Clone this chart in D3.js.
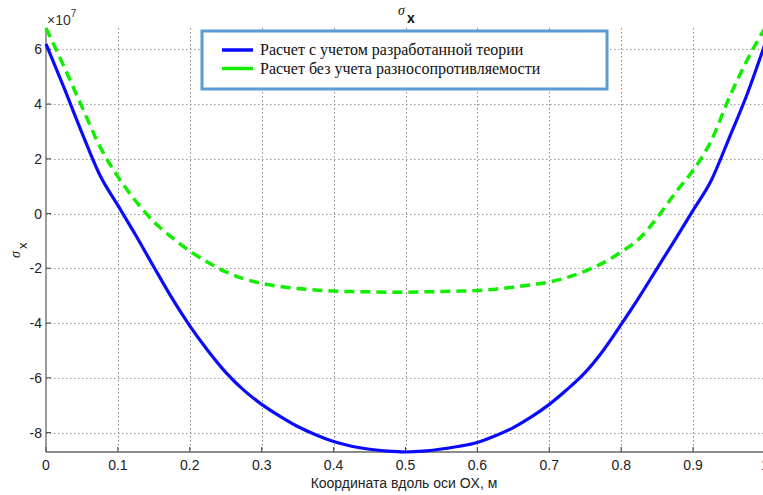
<!DOCTYPE html>
<html lang="ru">
<head>
<meta charset="utf-8">
<title>sigma x</title>
<script type="text/javascript" src="https://d3js.org/d3.v7.min.js"></script>
<style>
  body { margin: 0; background: #fff; }
  svg { display: block; }
  .ticklbl { font-family: "Liberation Sans", Arial, sans-serif; font-size: 14px; fill: #222; }
  .leglbl { font-family: "Liberation Serif", "Times New Roman", serif; font-size: 16px; fill: #111; }
</style>
</head>
<body>
<div id="chart"></div>
<script type="text/javascript">

// DATA (values in units of 1e7)
var xs = [0, 0.025, 0.05, 0.075, 0.1, 0.125, 0.15, 0.175, 0.2, 0.225, 0.25, 0.275, 0.3, 0.325, 0.35, 0.375, 0.4, 0.425, 0.45, 0.475,
          0.5, 0.525, 0.55, 0.575, 0.6, 0.625, 0.65, 0.675, 0.7, 0.725, 0.75, 0.775, 0.8, 0.825, 0.85, 0.875, 0.9, 0.925, 0.95, 0.975, 1];
var blueVals = [6.2, 4.6, 2.95, 1.4, 0.3, -0.8, -1.95, -3.08, -4.1, -5.0, -5.8, -6.45, -6.97, -7.4, -7.78, -8.08, -8.33, -8.5, -8.61, -8.68,
                -8.71, -8.68, -8.6, -8.5, -8.36, -8.12, -7.82, -7.43, -6.97, -6.42, -5.8, -5.0, -4.05, -3.05, -2.0, -0.95, 0.12, 1.2, 2.75, 4.35, 6.2];
var greenVals = [6.78, 5.37, 3.9, 2.45, 1.35, 0.45, -0.3, -0.87, -1.37, -1.78, -2.13, -2.38, -2.55, -2.66, -2.74, -2.79, -2.83, -2.85, -2.86, -2.87,
                 -2.87, -2.86, -2.85, -2.83, -2.81, -2.76, -2.69, -2.6, -2.5, -2.33, -2.1, -1.8, -1.4, -0.92, -0.15, 0.75, 1.58, 2.65, 4.22, 5.6, 6.78];
var xTicks = [0, 0.1, 0.2, 0.3, 0.4, 0.5, 0.6, 0.7, 0.8, 0.9, 1];
var yTicks = [-8, -6, -4, -2, 0, 2, 4, 6];
var seriesNames = ["Расчет с учетом разработанной теории", "Расчет без учета разносопротивляемости"];
var xLabel = "Координата вдоль оси OX, м";

var w = 763;
var h = 495;
// plot box (right edge runs past the window, as in the original)
var pLeft = 46, pRight = 765, pTop = 28, pBottom = 452;

var svg = d3.select("div#chart").append("svg")
  .attr("width", w).attr("height", h)
  .style("overflow", "hidden");

var x = d3.scaleLinear().domain([0, 1]).range([pLeft, pRight]);
var yExt = d3.extent(blueVals.concat(greenVals));
var y = d3.scaleLinear().domain(yExt).range([pBottom, pTop]);

// GRID
var grid = svg.append("g").attr("id", "grid");
grid.selectAll(".vgrid")
  .data(xTicks.filter(function(d) { return d > 0 && d < 1; }))
  .enter().append("line")
  .attr("x1", function(d) { return Math.round(x(d)) + 0.5; })
  .attr("x2", function(d) { return Math.round(x(d)) + 0.5; })
  .attr("y1", pTop).attr("y2", pBottom)
  .attr("stroke", "#888").attr("stroke-width", 1).attr("stroke-dasharray", "1.5,2.5");
grid.selectAll(".hgrid")
  .data(yTicks)
  .enter().append("line")
  .attr("x1", pLeft).attr("x2", w)
  .attr("y1", function(d) { return Math.round(y(d)) + 0.5; })
  .attr("y2", function(d) { return Math.round(y(d)) + 0.5; })
  .attr("stroke", "#999").attr("stroke-width", 1).attr("stroke-dasharray", "1.5,2.5");

// AXES
var axes = svg.append("g").attr("id", "axes");
axes.append("line").attr("x1", pLeft).attr("x2", pLeft).attr("y1", pTop).attr("y2", pBottom)
  .attr("stroke", "#666").attr("stroke-width", 1.3);
axes.append("line").attr("x1", pLeft).attr("x2", w).attr("y1", pBottom).attr("y2", pBottom)
  .attr("stroke", "#666").attr("stroke-width", 1.3);

axes.selectAll(".xtick").data(xTicks).enter().append("line")
  .attr("x1", function(d) { return x(d); }).attr("x2", function(d) { return x(d); })
  .attr("y1", pBottom).attr("y2", pBottom - 5)
  .attr("stroke", "#555").attr("stroke-width", 1.2);
axes.selectAll(".ytick").data(yTicks).enter().append("line")
  .attr("x1", pLeft).attr("x2", pLeft + 5)
  .attr("y1", function(d) { return y(d); }).attr("y2", function(d) { return y(d); })
  .attr("stroke", "#555").attr("stroke-width", 1.2);

axes.selectAll(".xlbl").data(xTicks).enter().append("text")
  .attr("class", "ticklbl")
  .attr("x", function(d) { return x(d); })
  .attr("y", 470)
  .attr("text-anchor", "middle")
  .text(function(d) { return d3.format("")(d); });
axes.selectAll(".ylbl").data(yTicks).enter().append("text")
  .attr("class", "ticklbl")
  .attr("x", 42)
  .attr("y", function(d) { return y(d) + 5; })
  .attr("text-anchor", "end")
  .text(function(d) { return d; });

// exponent
var expo = axes.append("text").attr("class", "ticklbl").attr("x", 47).attr("y", 25).style("fill", "#333");
expo.append("tspan").text("×10");
expo.append("tspan").attr("dy", -8).style("font-size", "10px").text("7");

// LINES
var line = d3.line()
  .x(function(d, i) { return x(xs[i]); })
  .y(function(d) { return y(d); })
  .curve(d3.curveMonotoneX);

var plot = svg.append("g").attr("id", "plot");
plot.append("path").datum(greenVals)
  .attr("d", line)
  .attr("fill", "none").attr("stroke", "#11ee00").attr("stroke-width", 3.5)
  .attr("stroke-dasharray", "10,6");
plot.append("path").datum(blueVals)
  .attr("d", line)
  .attr("fill", "none").attr("stroke", "#0a0aff").attr("stroke-width", 3.2);

// TITLE
var title = svg.append("g").attr("id", "title");
title.append("text").text("σ")
  .attr("x", 398).attr("y", 15)
  .style("font-family", "Liberation Serif, serif").style("font-style", "italic").style("font-size", "14px").style("fill", "#111");
title.append("text").text("x")
  .attr("x", 407).attr("y", 23)
  .style("font-family", "Liberation Sans, sans-serif").style("font-weight", "bold").style("font-size", "14px").style("fill", "#111");

// Y LABEL
var ylab = svg.append("g").attr("transform", "translate(20,258) rotate(-90)");
ylab.append("text").text("σ").attr("x", 0).attr("y", 0)
  .style("font-family", "Liberation Serif, serif").style("font-style", "italic").style("font-size", "14px").style("fill", "#222");
ylab.append("text").text("x").attr("x", 9).attr("y", 7)
  .style("font-family", "Liberation Sans, sans-serif").style("font-size", "13px").style("fill", "#222");

// X LABEL
svg.append("text").text(xLabel)
  .attr("class", "ticklbl")
  .attr("x", 404).attr("y", 488)
  .attr("text-anchor", "middle");

// LEGEND
var legend = svg.append("g").attr("id", "legend");
legend.append("rect")
  .attr("x", 202).attr("y", 31).attr("width", 405).attr("height", 58)
  .attr("fill", "#fff").attr("stroke", "#5b9bd5").attr("stroke-width", 3);
var legColors = ["#0a0aff", "#11ee00"];
legend.selectAll(".legline").data(seriesNames).enter().append("line")
  .attr("x1", 222).attr("x2", 253)
  .attr("y1", function(d, i) { return 50 + i * 18.5; })
  .attr("y2", function(d, i) { return 50 + i * 18.5; })
  .attr("stroke", function(d, i) { return legColors[i]; })
  .attr("stroke-width", 3.5);
legend.selectAll(".legtxt").data(seriesNames).enter().append("text")
  .attr("class", "leglbl")
  .attr("x", 260)
  .attr("y", function(d, i) { return 55 + i * 18.5; })
  .text(function(d) { return d; });

</script>
</body>
</html>
